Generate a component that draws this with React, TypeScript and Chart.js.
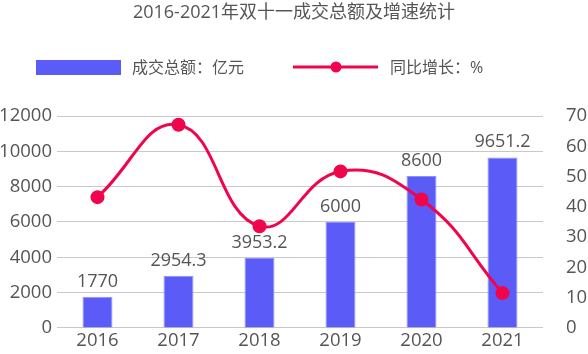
import React, { useEffect, useRef } from "react";
import { Chart, registerables } from "chart.js";

Chart.register(...registerables);

const categories = ["2016", "2017", "2018", "2019", "2020", "2021"];
const turnover = [1770, 2954.3, 3953.2, 6000, 8600, 9651.2];
const turnoverLabels = ["1770", "2954.3", "3953.2", "6000", "8600", "9651.2"];
const growth = [43.2, 67.1, 33.6, 51.7, 42.4, 11.5];

const TITLE = "2016-2021年双十一成交总额及增速统计";
const BAR_LABEL = "成交总额：亿元";
const LINE_LABEL = "同比增长：%";

const BAR_COLOR = "#5b5cf8";
const LINE_COLOR = "#f0054c";
const TEXT_COLOR = "#555555";
const FONT = "'Open Sans', 'Noto Sans CJK SC', sans-serif";

const decorPlugin = {
  id: "decor",
  afterDatasetsDraw(chart: any) {
    const ctx = chart.ctx;
    ctx.save();
    const meta = chart.getDatasetMeta(0);
    ctx.font = `18px ${FONT}`;
    ctx.fillStyle = TEXT_COLOR;
    ctx.textAlign = "center";
    ctx.textBaseline = "alphabetic";
    meta.data.forEach((bar: any, i: number) => {
      ctx.fillText(turnoverLabels[i], bar.x, bar.y - 10);
    });
    ctx.restore();
  },
  afterDraw(chart: any) {
    const ctx = chart.ctx;
    ctx.save();
    ctx.font = `18px ${FONT}`;
    ctx.fillStyle = TEXT_COLOR;
    ctx.textAlign = "center";
    ctx.textBaseline = "middle";
    ctx.fillText(TITLE, chart.width / 2, 13);
    ctx.fillStyle = BAR_COLOR;
    ctx.fillRect(36, 60, 85, 15);
    ctx.font = `16px ${FONT}`;
    ctx.fillStyle = TEXT_COLOR;
    ctx.textAlign = "left";
    ctx.fillText(BAR_LABEL, 132, 68);
    ctx.strokeStyle = LINE_COLOR;
    ctx.lineWidth = 3;
    ctx.beginPath();
    ctx.moveTo(293, 67);
    ctx.lineTo(378, 67);
    ctx.stroke();
    ctx.fillStyle = LINE_COLOR;
    ctx.beginPath();
    ctx.arc(336, 67, 5.5, 0, Math.PI * 2);
    ctx.fill();
    ctx.fillStyle = TEXT_COLOR;
    ctx.fillText(LINE_LABEL, 390, 68);
    ctx.restore();
  },
};

export default function App() {
  const ref = useRef<HTMLCanvasElement>(null);
  useEffect(() => {
    document.body.style.margin = "0";
    const chart = new Chart(ref.current as HTMLCanvasElement, {
      type: "bar",
      data: {
        labels: categories,
        datasets: [
          {
            type: "bar",
            label: BAR_LABEL,
            data: turnover,
            backgroundColor: BAR_COLOR,
            borderColor: "#8f90fa",
            borderWidth: 1,
            barPercentage: 0.37,
            categoryPercentage: 1,
            yAxisID: "y",
            order: 2,
          } as any,
          {
            type: "line",
            label: LINE_LABEL,
            data: growth,
            borderColor: LINE_COLOR,
            backgroundColor: LINE_COLOR,
            borderWidth: 3,
            pointRadius: 5.5,
            pointHoverRadius: 5.5,
            tension: 0.45,
            yAxisID: "y1",
            order: 1,
          } as any,
        ],
      },
      options: {
        animation: false,
        responsive: false,
        maintainAspectRatio: false,
        layout: { padding: { top: 116, left: 0, right: 0, bottom: 0 } },
        plugins: {
          legend: { display: false },
          title: { display: false },
          tooltip: { enabled: false },
        },
        scales: {
          x: {
            grid: { display: false, drawTicks: false },
            border: { display: false },
            ticks: { color: TEXT_COLOR, font: { family: FONT, size: 18.5 }, padding: 2 },
            afterFit(scale: any) {
              scale.height = 25;
            },
          },
          y: {
            position: "left",
            min: 0,
            max: 12000,
            ticks: {
              stepSize: 2000,
              color: TEXT_COLOR,
              font: { family: FONT, size: 18.5 },
              padding: 5,
              callback: (v: any) => String(v),
            },
            grid: { color: "#c8c8c8", drawTicks: false, lineWidth: 1 },
            border: { display: false },
            afterFit(scale: any) {
              scale.width = 57;
            },
          },
          y1: {
            position: "right",
            min: 0,
            max: 70,
            ticks: {
              stepSize: 10,
              color: TEXT_COLOR,
              font: { family: FONT, size: 18.5 },
              padding: 15,
              callback: (v: any) => String(v),
            },
            grid: { display: false },
            border: { display: false },
            afterFit(scale: any) {
              scale.width = 45;
            },
          },
        },
      } as any,
      plugins: [decorPlugin],
    });
    return () => chart.destroy();
  }, []);
  return <canvas ref={ref} width={588} height={354} style={{ display: "block" }} />;
}
